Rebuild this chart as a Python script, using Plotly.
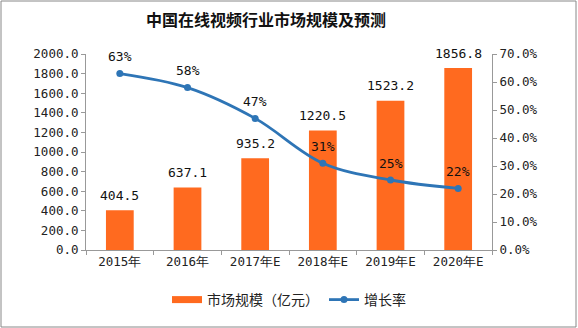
import plotly.graph_objects as go

categories = ["2015年", "2016年", "2017年E", "2018年E", "2019年E", "2020年E"]
market_size = [404.5, 637.1, 935.2, 1220.5, 1523.2, 1856.8]
growth_rate = [0.63, 0.58, 0.47, 0.31, 0.25, 0.22]
growth_labels = ["63%", "58%", "47%", "31%", "25%", "22%"]

FONT = "Noto Sans CJK SC"
NUMFONT = "DejaVu Sans Mono"
ORANGE = "#FF6A1F"
BLUE = "#2E75B6"
W, H = 578, 328
ml, mr, mt, mb = 86, 86, 54, 78
pw, ph = W - ml - mr, H - mt - mb

fig = go.Figure()
fig.add_trace(go.Bar(
    x=categories, y=market_size, name="市场规模（亿元）",
    marker=dict(color=ORANGE, line=dict(width=0)),
    width=0.41, showlegend=False,
))
fig.add_trace(go.Scatter(
    x=[None], y=[None], name="市场规模（亿元）", mode="lines",
    line=dict(color=ORANGE, width=7), showlegend=True,
))
fig.add_trace(go.Scatter(
    x=categories, y=growth_rate, name="增长率", yaxis="y2",
    mode="lines+markers",
    line=dict(color=BLUE, width=2.8, shape="spline"),
    marker=dict(size=7, color=BLUE),
    cliponaxis=False,
))

annotations = []
for c, v in zip(categories, market_size):
    annotations.append(dict(x=c, y=v, xref="x", yref="y", text=f"{v:.1f}",
                            showarrow=False, yshift=15,
                            font=dict(size=13, color="#111", family=NUMFONT)))
for c, v, t in zip(categories, growth_rate, growth_labels):
    annotations.append(dict(x=c, y=v, xref="x", yref="y2", text=t,
                            showarrow=False, yshift=17,
                            font=dict(size=13, color="#111", family=NUMFONT)))

fig.update_layout(
    width=W, height=H,
    margin=dict(l=ml, r=mr, t=mt, b=mb),
    paper_bgcolor="white", plot_bgcolor="white",
    title=dict(text="<b>中国在线视频行业市场规模及预测</b>", x=266 / W, xanchor="center",
               y=1 - 20 / H, yanchor="middle",
               font=dict(size=16, family=FONT, color="#111")),
    showlegend=True,
    legend=dict(orientation="h", x=0.5, xanchor="center", y=-50 / ph, yanchor="middle",
                font=dict(size=14, family=FONT, color="#222"), traceorder="normal",
                itemwidth=30),
    annotations=annotations,
    xaxis=dict(tickfont=dict(size=12.5, family=NUMFONT, color="#222"),
               showline=True, linecolor="#999", ticks="outside", tickson="boundaries",
               ticklen=4, tickcolor="#999", showgrid=False),
    yaxis=dict(range=[0, 2000], dtick=200, tickformat=".1f",
               tickfont=dict(size=12.5, family=NUMFONT, color="#222"),
               showline=True, linecolor="#999", ticks="outside", ticklen=4,
               tickcolor="#999", showgrid=False, zeroline=False),
    yaxis2=dict(range=[0, 0.7], dtick=0.1, tickformat=".1%", overlaying="y", side="right",
                tickfont=dict(size=12.5, family=NUMFONT, color="#222"),
                showline=True, linecolor="#999", ticks="outside", ticklen=4,
                tickcolor="#999", showgrid=False, zeroline=False),
    shapes=[dict(type="rect", xref="paper", yref="paper",
                 x0=(-ml + 1) / pw, x1=(pw + mr - 2) / pw,
                 y0=(-mb + 1) / ph, y1=(ph + mt - 1) / ph,
                 line=dict(color="#888", width=1))],
)

fig.write_html("out.html")
